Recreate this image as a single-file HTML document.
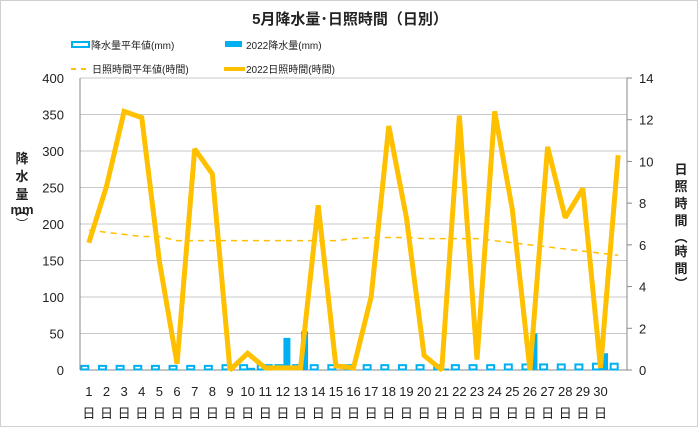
<!DOCTYPE html>
<html><head><meta charset="utf-8"><style>
body{margin:0;background:#fff}
svg text{font-family:"Liberation Sans","Noto Sans CJK JP",sans-serif;fill:#222}
</style></head><body>
<svg id="chart" width="700" height="427" xmlns="http://www.w3.org/2000/svg">
<rect x="0.5" y="0.5" width="697" height="426" fill="#fff" stroke="#d0d0d0"/>
<text x="350" y="24" text-anchor="middle" font-size="15" font-weight="bold">5月降水量･日照時間（日別）</text>
<g font-size="10">
<g><rect x="72" y="42" width="17" height="5" fill="#fff" stroke="#00b0f0" stroke-width="2"/><text x="91" y="49">降水量平年値(mm)</text></g>
<g><rect x="225" y="41" width="17" height="6" fill="#00b0f0"/><text x="246" y="49">2022降水量(mm)</text></g>
<g><line x1="71" y1="69" x2="90" y2="69" stroke="#ffc000" stroke-width="2" stroke-dasharray="5,5"/><text x="92" y="73">日照時間平年値(時間)</text></g>
<g><line x1="224" y1="69" x2="245" y2="69" stroke="#ffc000" stroke-width="4"/><text x="246" y="73">2022日照時間(時間)</text></g>
</g>
<text font-size="13" font-weight="bold" text-anchor="middle"><tspan x="22" y="163">降</tspan><tspan x="22" y="181">水</tspan><tspan x="22" y="199">量</tspan><tspan x="22" y="215">︵</tspan><tspan x="22" y="215" dy="0"> </tspan><tspan x="22" y="215"></tspan></text>
<text x="22" y="214" text-anchor="middle" font-size="13" font-weight="bold">mm</text>
<text x="22" y="228" text-anchor="middle" font-size="12">︶</text>
<text font-size="13" font-weight="bold" text-anchor="middle"><tspan x="681" y="174">日</tspan><tspan x="681" y="191">照</tspan><tspan x="681" y="208">時</tspan><tspan x="681" y="225">間</tspan><tspan x="681" y="242">︵</tspan><tspan x="681" y="256">時</tspan><tspan x="681" y="273">間</tspan><tspan x="681" y="288">︶</tspan></text>
<g id="grid"></g><g id="bars"></g><g id="lines"></g><g id="axes"></g>
</svg>
<script>
const days=[1,2,3,4,5,6,7,8,9,10,11,12,13,14,15,16,17,18,19,20,21,22,23,24,25,26,27,28,29,30,31];
const dayLabels=["1","2","3","4","5","6","7","8","9","10","11","12","13","14","15","16","17","18","19","20","21","22","23","24","25","26","27","28","29","30",""];
const rainNormal=[7,7,7,7,7,7,7,7,8,8,8,8,8,8,8,8,8,8,8,8,8,8,8,8,9,9,9,9,9,10,10];
const rain2022=[0,0,0,0,0,0,0,0,0,3,8,44,53,0,0,0,0,0,0,0,2,0,0,0,0,50,0,0,0,23,0];
const sunNormal=[6.7,6.6,6.5,6.4,6.4,6.2,6.2,6.2,6.2,6.2,6.2,6.2,6.2,6.2,6.2,6.3,6.35,6.35,6.35,6.3,6.3,6.3,6.3,6.2,6.1,6.0,5.9,5.8,5.7,5.6,5.5];
const sun2022=[6.1,8.8,12.4,12.1,5.2,0.3,10.6,9.4,0,0.8,0.1,0.1,0.1,7.9,0.2,0.1,3.5,11.7,7.3,0.7,0,12.2,0.5,12.4,7.7,0,10.7,7.3,8.7,0.1,10.3];
const leftTicks=[0,50,100,150,200,250,300,350,400];
const rightTicks=[0,2,4,6,8,10,12,14];
const X0=80,X1=627,Y0=370,Y1=78,NS="http://www.w3.org/2000/svg";
const slot=(X1-X0)/days.length;
const xc=i=>X0+slot*(i+0.5);
const yL=v=>Y0-(v/400)*(Y0-Y1);
const yR=v=>Y0-(v/14)*(Y0-Y1);
function mk(t,a,p){const e=document.createElementNS(NS,t);for(const k in a)e.setAttribute(k,a[k]);p.appendChild(e);return e;}
const grid=document.getElementById('grid'),bars=document.getElementById('bars'),lines=document.getElementById('lines'),axes=document.getElementById('axes');
leftTicks.forEach(v=>{
 const l=mk('line',{x1:X0,x2:X1,y1:yL(v),y2:yL(v),stroke:v===0?'#888':'#c8c8c8','stroke-width':1},grid);
 
 
 const t=mk('text',{x:X0-16,y:yL(v)+5,'text-anchor':'end','font-size':13},axes);t.textContent=v;
 
 
});
rightTicks.forEach(v=>{
 const t=mk('text',{x:X1+12,y:yR(v)+5,'text-anchor':'start','font-size':13},axes);t.textContent=v;
 
 
 const k=mk('line',{x1:X1,x2:X1+5,y1:yR(v),y2:yR(v),stroke:'#888'},axes);
 
 
});
const la=mk('line',{x1:X0,x2:X0,y1:Y1,y2:Y0,stroke:'#888'},axes);


const ra=mk('line',{x1:X1,x2:X1,y1:Y1,y2:Y0,stroke:'#888'},axes);


days.forEach((d,i)=>{
 const bw=7;
 const h1=Y0-yL(rainNormal[i]);
 const r1=mk('rect',{x:xc(i)-bw-0.5,y:yL(rainNormal[i])+1,width:bw,height:Math.max(h1-1.5,1),fill:'#fff',stroke:'#00b0f0','stroke-width':2},bars);
 
 
 if(rain2022[i]>0){
  const r2=mk('rect',{x:xc(i)+0.5,y:yL(rain2022[i]),width:bw,height:Y0-yL(rain2022[i]),fill:'#00b0f0'},bars);
  
  
 }
 const t=mk('text',{x:xc(i),y:396,'text-anchor':'middle','font-size':13},axes);t.textContent=dayLabels[i];
 
 
 if(dayLabels[i]){
  const u=mk('text',{x:xc(i),y:418,'text-anchor':'middle','font-size':13},axes);u.textContent='日';
  
  
 }
});
const p1=mk('polyline',{points:sunNormal.map((v,i)=>xc(i)+','+yR(v)).join(' '),fill:'none',stroke:'#ffc000','stroke-width':1.5,'stroke-dasharray':'6,5'},lines);


const p2=mk('polyline',{points:sun2022.map((v,i)=>xc(i)+','+yR(v)).join(' '),fill:'none',stroke:'#ffc000','stroke-width':5,'stroke-linejoin':'miter','stroke-miterlimit':2},lines);


</script>
</body></html>
